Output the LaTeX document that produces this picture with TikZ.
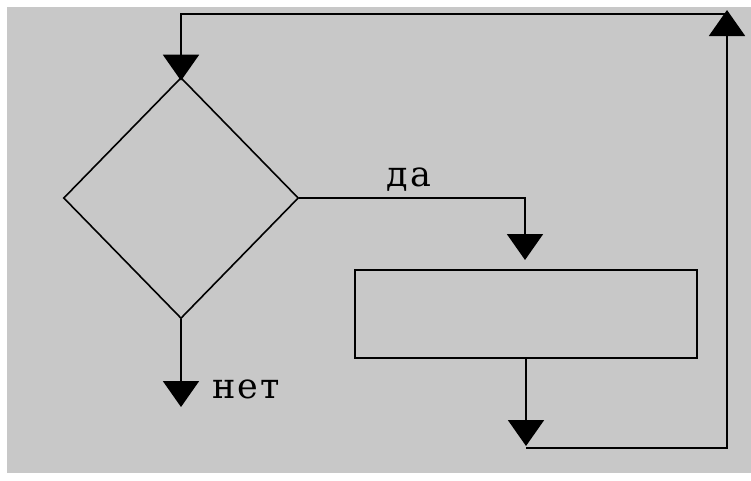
\documentclass[tikz,border=0pt]{standalone}
\usepackage{fontspec}
\newfontfamily\lblfont[LetterSpace=6]{DejaVu Serif}
\usetikzlibrary{shapes.geometric,arrows.meta}
\definecolor{bggray}{RGB}{200,200,200}
\tikzset{
  ln/.style={line width=2pt, draw=black},
  arr/.style={ln, -{Triangle[width=36pt,length=26pt]}},
  lbl/.style={font=\lblfont\fontsize{35}{37}\selectfont, inner sep=0pt},
}
\begin{document}
\begin{tikzpicture}[x=1pt,y=-1pt]
\useasboundingbox (0,0) rectangle (751,480);
\fill[white] (0,0) rectangle (751,480);
\fill[bggray] (7,7) rectangle (751,473);
\node[diamond, draw, line width=1.6pt, minimum width=235pt, minimum height=241pt, inner sep=0pt] (dec) at (181,198) {};
\node[rectangle, draw, line width=1.6pt, minimum width=342pt, minimum height=88pt, inner sep=0pt] (proc) at (526,314) {};
\coordinate (yesx) at (525,0);
\coordinate (yesend) at (525,260);
\coordinate (noy) at (0,407);
\coordinate (outend) at (526,446);
\coordinate (br) at (727,448);
\coordinate (tr) at (727,10);
\coordinate (topy) at (0,14);
\draw[arr] (dec.east) -- (dec.east -| yesx) -- (yesend);
\draw[arr] (dec.south) -- (dec.south |- noy);
\draw[arr] (proc.south) -- (outend);
\draw[arr] (outend |- br) -- (br) -- (tr);
\draw[arr] (tr |- topy) -- (dec.north |- topy) -- ([yshift=-4pt]dec.north);
\node[lbl] (yes) at (409,180) {да};
\node[lbl] (no) at (246,389) {нет};
\end{tikzpicture}
\end{document}
